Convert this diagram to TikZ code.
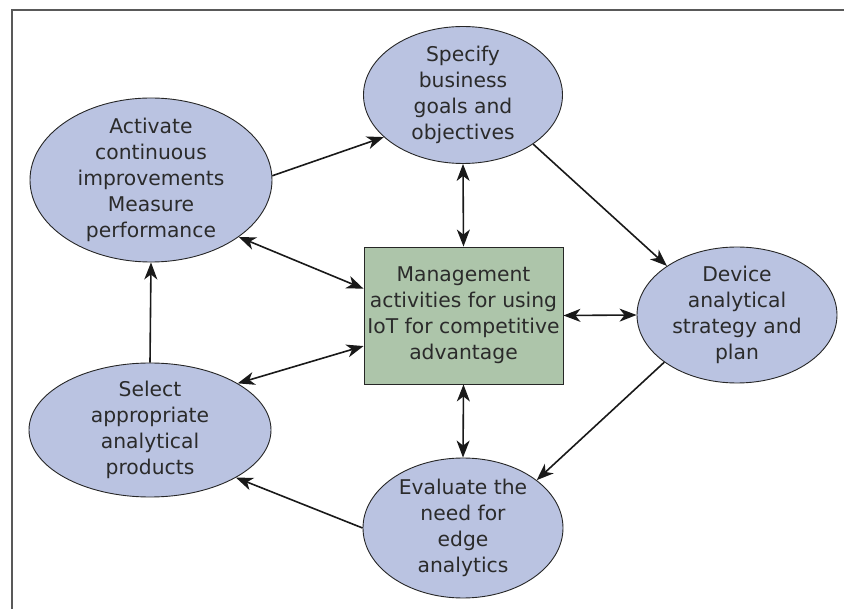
\documentclass[tikz,border=0pt]{standalone}
\usepackage{fontspec}
\setmainfont{DejaVu Sans}
\usetikzlibrary{shapes.geometric}
\usetikzlibrary{arrows.meta}

\definecolor{phaseblue}{HTML}{BAC3E1}
\definecolor{boxgreen}{HTML}{ADC5AA}
\definecolor{inkgray}{HTML}{2B2B2B}

\tikzset{
  phase/.style={ellipse, draw=black!85, line width=0.9pt, fill=phaseblue, inner sep=0pt},
  phasetext/.style={align=center, text=inkgray, font=\fontsize{20.3}{26}\selectfont},
  link/.style={line width=1.6pt, draw=black!90, -{Stealth[length=17pt,width=13pt,inset=5pt]}},
  dlink/.style={line width=1.6pt, draw=black!90,
    {Stealth[length=17pt,width=13pt,inset=5pt]}-{Stealth[length=17pt,width=13pt,inset=5pt]}},
}

\begin{document}
\begin{tikzpicture}[x=1pt, y=-1pt]
\useasboundingbox (0,0) rectangle (844,609);
\draw [line width=1.6pt, black!65] (12,609) -- (12,10) -- (844,10);

% the five phases round the centre box
\node[phase, minimum width=199pt, minimum height=137pt,
  label={[phasetext]center:Specify\\business\\goals and\\objectives}] (spec) at (463,95) {};
\node[phase, minimum width=200pt, minimum height=136pt,
  label={[phasetext]center:Device\\analytical\\strategy and\\plan}] (dev) at (737,315) {};
\node[phase, minimum width=200pt, minimum height=140pt,
  label={[phasetext]center:Evaluate the\\need for\\edge\\analytics}] (eval) at (463,528) {};
\node[phase, minimum width=242pt, minimum height=134pt,
  label={[phasetext]center:Select\\appropriate\\analytical\\products}] (sel) at (150,430) {};
\node[phase, minimum width=242pt, minimum height=164pt,
  label={[phasetext]center:Activate\\continuous\\improvements\\Measure\\performance}] (act) at (151,180) {};

\node[draw=black!85, line width=0.9pt, fill=boxgreen, minimum width=199pt, minimum height=137pt,
  inner sep=0pt, phasetext] (mgmt) at (463.5,315.5)
  {Management\\activities for using\\IoT for competitive\\advantage};

% cycle
\draw[link] (act.2) -- (spec.208);
\draw[link] (spec.325) -- (dev.145);
\draw[link] (dev.213) -- (eval.33.5);
\draw[link] (eval.180) -- (sel.331);
\draw[link] (sel.north) -- (act.south);

% links to the centre
\draw[dlink] (mgmt.north) -- (spec.south);
\draw[dlink] (mgmt.east) -- (dev.west);
\draw[dlink] (mgmt.south) -- (eval.north);
\draw[dlink] (mgmt.165.6) -- (act.327);
\draw[dlink] (mgmt.197.6) -- (sel.28.1);
\end{tikzpicture}
\end{document}
